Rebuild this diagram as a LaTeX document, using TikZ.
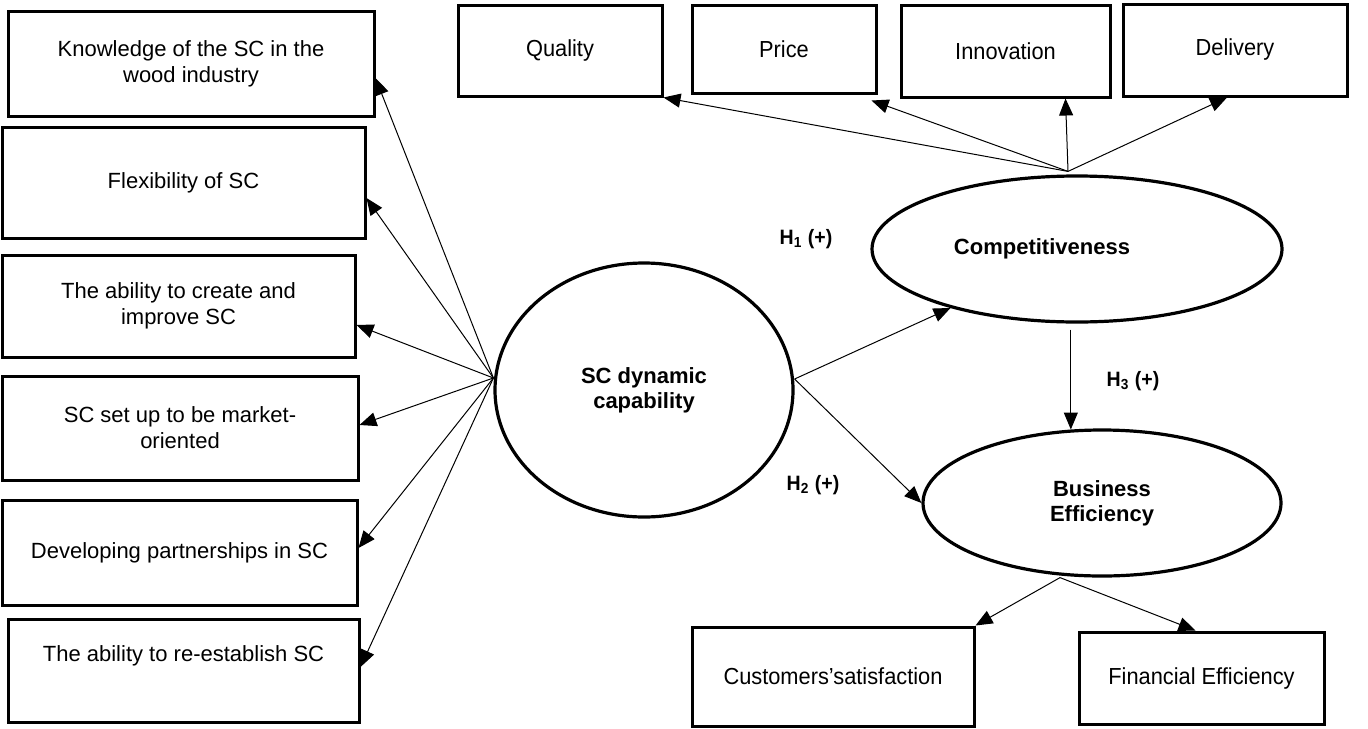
\documentclass[tikz,border=0pt]{standalone}
\usepackage{fontspec}
\setmainfont{Liberation Sans}
\newfontfamily\narrowsans[FakeStretch=0.94]{Liberation Sans}
\usepackage{tikz}
\usetikzlibrary{shapes.geometric, arrows.meta}
\tikzset{
  item/.style={rectangle, draw, line width=1.5pt, align=center, inner sep=2pt, font=\fontsize{11}{13}\selectfont},
  tagbox/.style={item, font=\narrowsans\fontsize{11.6}{14}\selectfont},
  latent/.style={ellipse, draw, line width=1.6pt, align=center, inner sep=0pt, font=\bfseries\fontsize{11}{12.5}\selectfont},
  arrow/.style={-{Triangle[length=8.5pt, width=7pt]}, line width=0.5pt},
  hyp/.style={font=\narrowsans\bfseries\fontsize{10.4}{12}\selectfont},
}

\begin{document}
\begin{tikzpicture}[x=0.5pt, y=-0.5pt]
  \useasboundingbox (0,0) rectangle (1368,728);
  \node[item, minimum width=183pt, minimum height=52.5pt] (know) at (191,63.5) {Knowledge of the SC in the\\wood industry};
  \node[item, minimum width=181.5pt, minimum height=55.5pt] (flex) at (183.5,182.5) {Flexibility of SC};
  \node[item, minimum width=176.5pt, minimum height=51pt] (create) at (178.5,306) {The ability to create and\\improve SC};
  \node[item, minimum width=178pt, minimum height=52pt] (market) at (180,428) {SC set up to be market-\\oriented};
  \node[item, minimum width=177.5pt, minimum height=52.5pt] (partner) at (179.5,552.5) {Developing partnerships in SC};
  \node[item, minimum width=175.5pt, minimum height=51.5pt] (reest) at (183.5,670.5) {The ability to re-establish SC\\\strut};
  \node[latent, minimum width=149pt, minimum height=127pt] (scdc) at (644,390) {SC dynamic\\capability};
  \node[latent, minimum width=205pt, minimum height=73pt] (comp) at (1077,249) {\mbox{Competitiveness\hspace{35pt}}};
  \node[latent, minimum width=179pt, minimum height=73pt] (beff) at (1102,503) {Business\\Efficiency};
  \node[tagbox, minimum width=102pt, minimum height=45.5pt] (qual) at (560,50.5) {Quality};
  \node[tagbox, minimum width=92pt, minimum height=44pt] (price) at (784,49) {Price};
  \node[tagbox, minimum width=104.5pt, minimum height=46pt] (innov) at (1005.5,51) {Innovation};
  \node[tagbox, minimum width=112pt, minimum height=46pt] (deliv) at (1235,50) {Delivery};
  \node[tagbox, minimum width=141pt, minimum height=49.5pt] (cust) at (833,676.5) {Customers’satisfaction};
  \node[tagbox, minimum width=122.5pt, minimum height=46pt] (fin) at (1201.5,678) {Financial Efficiency};
  \node[hyp] (h1) at (806,239) {H\textsubscript{1} (+)};
  \node[hyp] (h2) at (813,485) {H\textsubscript{2} (+)};
  \node[hyp] (h3) at (1133,381) {H\textsubscript{3} (+)};
  \coordinate (scl) at ([yshift=6pt]scdc.west);
  \coordinate (scr) at ([yshift=5.5pt]scdc.east);
  \coordinate (ctop) at ([xshift=-4.5pt,yshift=1.5pt]comp.north);
  \coordinate (cbot) at ([yshift=-3pt]comp.south);
  \coordinate (bbot) at ([xshift=-21pt]beff.south);
  \draw[arrow] (scl) -- ([yshift=-7.25pt]know.east);
  \draw[arrow] (scl) -- ([yshift=-7.75pt]flex.east);
  \draw[arrow] (scl) -- ([yshift=-9.5pt]create.east);
  \draw[arrow] (scl) -- ([yshift=1.5pt]market.east);
  \draw[arrow] (scl) -- ([yshift=2.25pt]partner.east);
  \draw[arrow] (scl) -- ([yshift=1.75pt]reest.east);
  \draw[arrow] (scr) -- (comp.205);
  \draw[arrow] (scr) -- (beff.west);
  \draw[arrow] (cbot -| beff.113) -- (beff.113);
  \draw[arrow] (ctop) -- (qual.south east);
  \draw[arrow] (ctop) -- ([xshift=-3pt,yshift=-3pt]price.south east);
  \draw[arrow] (ctop) -- ([xshift=-23pt]innov.south east);
  \draw[arrow] (ctop) -- ([xshift=-4pt]deliv.south);
  \draw[arrow] (bbot) -- (cust.north east);
  \draw[arrow] (bbot) -- ([xshift=-3pt]fin.north);
\end{tikzpicture}
\end{document}
